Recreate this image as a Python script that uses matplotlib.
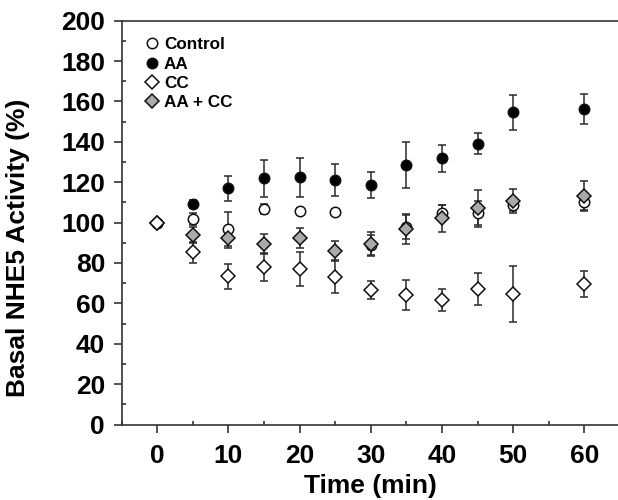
import matplotlib
matplotlib.use("Agg")
import matplotlib.pyplot as plt
from matplotlib.ticker import MultipleLocator

plt.rcParams['font.family'] = ['Liberation Sans', 'DejaVu Sans']
plt.rcParams['font.weight'] = 'bold'

# ---------- data ----------
time = [0, 5, 10, 15, 20, 25, 30, 35, 40, 45, 50, 60]

control = [100, 101.8, 96.7, 106.7, 105.7, 105.4, 89.0, 98.0, 104.9, 104.8, 108.7, 110.4]
control_err = [0, 3.0, 8.5, 2.5, 1.5, 1.5, 5.0, 6.0, 4.0, 6.0, 3.0, 4.0]

aa = [100, 109.2, 117.0, 121.9, 122.4, 121.1, 118.6, 128.5, 131.8, 139.1, 154.6, 156.3]
aa_err = [0, 2.0, 6.2, 9.0, 9.5, 8.1, 6.6, 11.2, 6.8, 5.2, 8.5, 7.4]

cc = [100, 85.3, 73.4, 78.2, 77.0, 73.2, 66.6, 64.1, 61.7, 67.0, 64.6, 69.4]
cc_err = [0, 5.3, 6.3, 6.9, 8.4, 8.1, 4.4, 7.4, 5.3, 7.8, 14.0, 6.4]

aacc = [100, 93.9, 92.5, 89.4, 92.5, 86.1, 89.4, 96.8, 102.1, 107.1, 110.7, 113.2]
aacc_err = [0, 4.0, 5.0, 5.0, 5.0, 5.0, 6.0, 7.4, 6.6, 9.2, 6.0, 7.4]
# ----------------------------------------------

fig = plt.figure(figsize=(6.18, 5.0), dpi=100)
ax = fig.add_axes([121.7 / 618, 1 - 424.5 / 500, (620 - 121.7) / 618, 403.8 / 500])

ebar = dict(ecolor='#2a2a2a', elinewidth=1.1, capsize=2.8, capthick=1.1,
            linestyle='none', markeredgecolor='#111111', markeredgewidth=1.1)

h_ctrl = ax.errorbar(time, control, yerr=control_err, marker='o', ms=7.5,
                     mfc='white', label='Control', **ebar)
h_aa = ax.errorbar(time, aa, yerr=aa_err, marker='o', ms=7.5,
                   mfc='black', label='AA', **ebar)
h_aacc = ax.errorbar(time, aacc, yerr=aacc_err, marker='D', ms=7,
                     mfc='#aaaaaa', label='AA + CC', **ebar)
h_cc = ax.errorbar(time, cc, yerr=cc_err, marker='D', ms=7,
                   mfc='white', label='CC', **ebar)

ax.set_xlim(-5, 65)
ax.set_ylim(0, 200)

ax.xaxis.set_major_locator(MultipleLocator(10))
ax.xaxis.set_minor_locator(MultipleLocator(5))
ax.yaxis.set_major_locator(MultipleLocator(20))
ax.yaxis.set_minor_locator(MultipleLocator(10))

ax.tick_params(which='major', direction='out', length=6, width=1.1,
               labelsize=19, pad=6, color='#222222')
ax.tick_params(which='minor', direction='in', length=3, width=1.1, color='#222222')
ax.tick_params(axis='x', which='major', pad=8)

for s in ['left', 'bottom', 'top']:
    ax.spines[s].set_linewidth(1.2)
    ax.spines[s].set_color('#333333')
ax.spines['right'].set_visible(False)

ax.set_xlabel('Time (min)', fontsize=19, fontweight='bold', labelpad=4)
ax.set_ylabel('Basal NHE5 Activity (%)', fontsize=19, fontweight='bold')
ax.yaxis.set_label_coords(-0.184, 0.437)

leg = ax.legend([h_ctrl[0], h_aa[0], h_cc[0], h_aacc[0]],
                ['Control', 'AA', 'CC', 'AA + CC'],
                loc='upper left', bbox_to_anchor=(0.047, 0.959),
                frameon=False, fontsize=12.3, handlelength=0.8, handletextpad=0.3,
                labelspacing=0.25, borderpad=0, borderaxespad=0, numpoints=1)
for t in leg.get_texts():
    t.set_fontweight('bold')

fig.savefig('out.png', dpi=100)
